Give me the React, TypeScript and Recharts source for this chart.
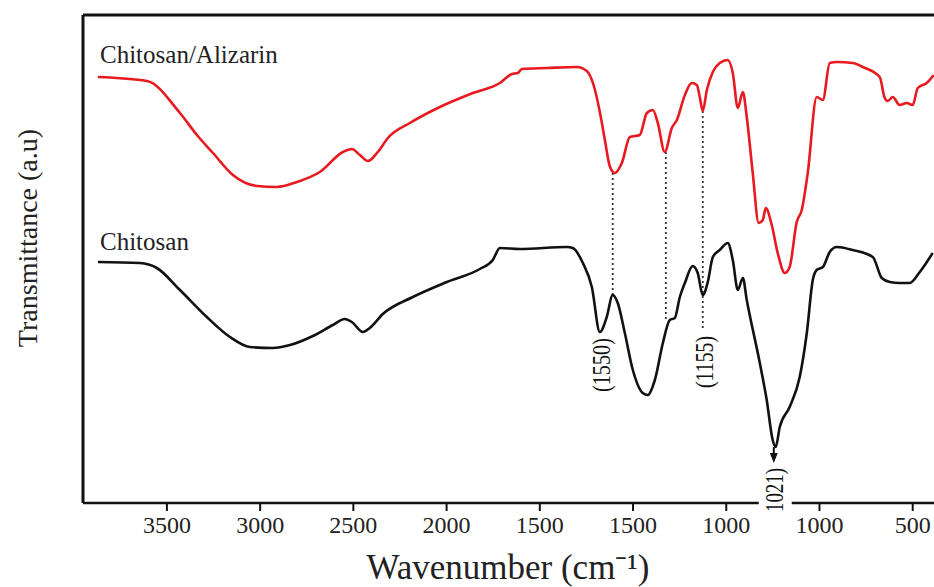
import { LineChart, Line, XAxis, YAxis, ReferenceLine, ReferenceDot } from 'recharts'

// x is the nominal position on the printed axis (cm-1), y is transmittance in arbitrary units
const tickValues = [3500, 3000, 2500, 2000, 1500, 1000, 500, 0, -500]
const tickLabels = ['3500', '3000', '2500', '2000', '1500', '1500', '1000', '1000', '500']

const alizarinWn = [
  3870, 3607, 3430, 3339, 3253, 3146, 3017, 2910, 2803,
  2680, 2556, 2508, 2465, 2422, 2369, 2315, 2197, 2036, 1859,
  1714, 1650, 1618, 1596, 1462, 1302, 1248, 1210, 1178, 1151,
  1125, 1098, 1060, 1017, 964, 926, 894, 867, 830, 792,
  765, 722, 685, 658, 642, 626, 604, 572, 535, 492,
  465, 438, 411, 390, 358, 326, 304, 288, 256, 224,
  186, 160, 122, 95, 63, 15, -18, -55, -93, -178,
  -232, -323, -350, -366, -393, -430, -468, -500, -527, -575, -613,
]
const alizarinT = [
  426, 422, 390, 368, 350, 328, 317, 316, 321,
  331, 351, 354, 348, 342, 351, 365, 380, 396, 410,
  420, 429, 430, 434, 435, 436, 432, 417, 391, 363,
  337, 330, 340, 366, 368, 390, 393, 380, 351, 375,
  383, 408, 420, 418, 406, 392, 413, 431, 440, 443,
  430, 395, 411, 386, 330, 280, 283, 295, 278, 250,
  230, 236, 281, 293, 330, 406, 403, 440, 441, 440,
  436, 426, 405, 402, 406, 398, 400, 398, 415, 420, 428,
]

const chitosanWn = [
  3870, 3645, 3554, 3430, 3286, 3162, 3055, 2932, 2840, 2717,
  2610, 2546, 2508, 2449, 2412, 2342, 2181, 1999, 1822, 1752,
  1714, 1607, 1355, 1323, 1269, 1221, 1178, 1141, 1109, 1082,
  1044, 1001, 948, 921, 883, 840, 803, 776, 749, 722,
  680, 653, 626, 599, 572, 535, 492, 465, 438, 411,
  390, 320, 283, 251, 235, 213, 160, 106, 68, 36,
  15, -18, -55, -93, -178, -286, -334, -377, -430, -484,
  -538, -607,
]
const chitosanT = [
  241, 240, 235, 213, 186, 166, 156, 155, 158, 167,
  178, 184, 181, 171, 175, 189, 206, 221, 234, 243,
  255, 254, 256, 255, 240, 216, 171, 186, 208, 200,
  170, 133, 110, 108, 123, 160, 183, 185, 206, 220,
  237, 230, 208, 221, 246, 253, 260, 243, 213, 225,
  203, 140, 103, 63, 56, 76, 96, 126, 170, 223,
  233, 236, 251, 256, 253, 246, 225, 221, 220, 220,
  231, 250,
]

// dotted guides: [wavenumber, top, bottom]
const guides = [
  [1109, 330, 208],
  [824, 351, 181],
  [626, 392, 173],
]

const alizarinData = alizarinWn.map((wn, i) => ({ wn, t: alizarinT[i] }))
const chitosanData = chitosanWn.map((wn, i) => ({ wn, t: chitosanT[i] }))

const serif = '"Liberation Serif", "Times New Roman", serif'

function RotatedText({ cx, cy, text, len, bg }: any) {
  return (
    <g>
      {bg && <rect x={cx - 16} y={cy - len / 2 - 2} width={33} height={len + 6} fill="#fff" />}
      <text
        x={cx}
        y={cy}
        transform={`rotate(-90 ${cx} ${cy})`}
        textAnchor="middle"
        dominantBaseline="central"
        fontFamily={serif}
        fontSize={25}
        textLength={len}
        lengthAdjust="spacingAndGlyphs"
        fill="#111"
      >
        {text}
      </text>
    </g>
  )
}

function Arrow({ cx, cy }: any) {
  return (
    <g>
      <line x1={cx} y1={cy - 6} x2={cx} y2={cy + 2} stroke="#111" strokeWidth={2} />
      <polygon points={`${cx - 4},${cy} ${cx + 4},${cy} ${cx},${cy + 10}`} fill="#111" />
    </g>
  )
}

export default function App() {
  return (
    <div style={{ position: 'absolute', left: 0, top: 0, width: 934, height: 587, overflow: 'hidden', background: '#fff' }}>
      <LineChart width={960} height={587} margin={{ top: 15, right: 10, bottom: 0, left: 83 }}>
        <XAxis
          type="number"
          dataKey="wn"
          domain={[-700, 3950]}
          reversed
          allowDataOverflow
          ticks={tickValues}
          tickFormatter={(v: number) => tickLabels[tickValues.indexOf(v)]}
          height={84}
          tickSize={8}
          tickMargin={5}
          tick={{ fontFamily: serif, fontSize: 24, fill: '#222' }}
          tickLine={{ stroke: '#111', strokeWidth: 2 }}
          axisLine={{ stroke: '#111', strokeWidth: 2.5 }}
        />
        <YAxis type="number" dataKey="t" domain={[0, 488]} hide />
        <ReferenceLine x={3950} stroke="#111" strokeWidth={3} />
        <ReferenceLine y={488} stroke="#111" strokeWidth={3} />
        {guides.map(([wn, top, bottom]) => (
          <ReferenceLine
            key={wn}
            segment={[{ x: wn, y: top }, { x: wn, y: bottom }]}
            stroke="#333"
            strokeWidth={1.8}
            strokeDasharray="2 3"
          />
        ))}
        <Line data={alizarinData} dataKey="t" type="monotone" stroke="#e8191f" strokeWidth={2.6} dot={false} isAnimationActive={false} />
        <Line data={chitosanData} dataKey="t" type="monotone" stroke="#111" strokeWidth={2.6} dot={false} isAnimationActive={false} />
        <ReferenceDot x={1168} y={138} r={0} ifOverflow="visible" shape={(p: any) => <RotatedText cx={p.cx} cy={p.cy} text="(1550)" len={54} />} />
        <ReferenceDot x={615} y={141} r={0} ifOverflow="visible" shape={(p: any) => <RotatedText cx={p.cx} cy={p.cy} text="(1155)" len={52} />} />
        <ReferenceDot x={245} y={50} r={0} ifOverflow="visible" shape={(p: any) => <Arrow cx={p.cx} cy={p.cy} />} />
        <ReferenceDot x={240} y={13} r={0} ifOverflow="visible" shape={(p: any) => <RotatedText cx={p.cx} cy={p.cy} text="1021)" len={44} bg />} />
      </LineChart>
      <div style={{ position: 'absolute', left: 100, top: 42, fontFamily: serif, fontSize: 25, color: '#222', lineHeight: 1 }}>Chitosan/Alizarin</div>
      <div style={{ position: 'absolute', left: 100, top: 229, fontFamily: serif, fontSize: 25, color: '#222', lineHeight: 1 }}>Chitosan</div>
      <div style={{ position: 'absolute', left: 0, width: 1016, top: 550, textAlign: 'center', fontFamily: serif, fontSize: 35, color: '#222', lineHeight: 1 }}>
        Wavenumber (cm⁻¹)
      </div>
      <div
        style={{
          position: 'absolute',
          left: 28,
          top: 238,
          transform: 'translate(-50%, -50%) rotate(-90deg)',
          fontFamily: serif,
          fontSize: 28,
          color: '#222',
          whiteSpace: 'nowrap',
          lineHeight: 1,
        }}
      >
        Transmittance (a.u)
      </div>
    </div>
  )
}
